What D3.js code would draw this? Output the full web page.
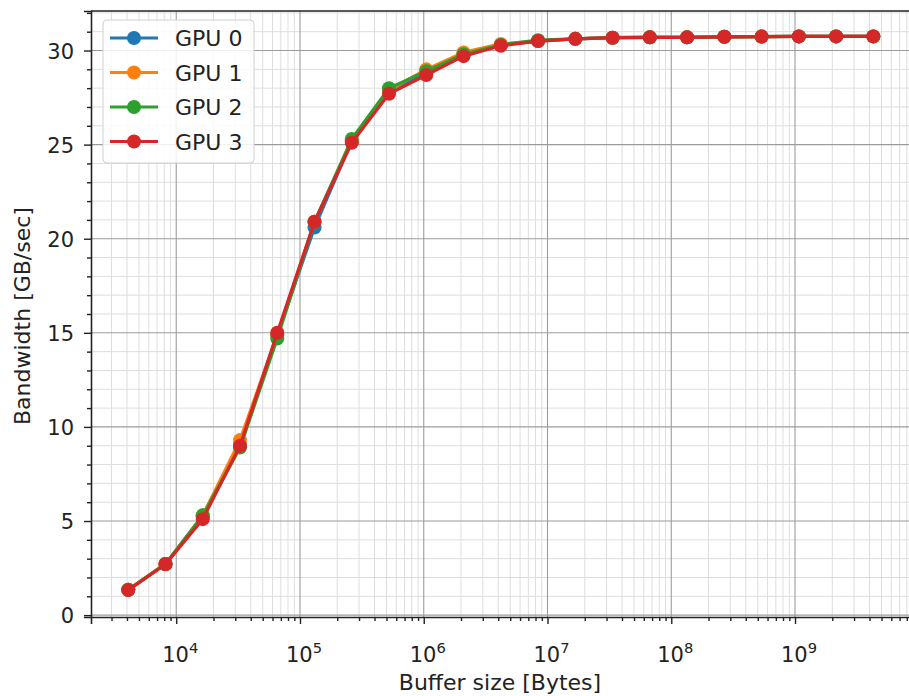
<!DOCTYPE html>
<html><head><meta charset="utf-8">
<script src="https://cdn.jsdelivr.net/npm/d3@7"></script>
<style>body{margin:0;background:#fff}svg{display:block}text{font-family:"DejaVu Sans",sans-serif;fill:#222}</style>
</head><body><svg id="c" width="909" height="696"></svg>
<script>
const sizes = [12,13,14,15,16,17,18,19,20,21,22,23,24,25,26,27,28,29,30,31,32].map(e => Math.pow(2, e));
const seriesNames = ["GPU 0","GPU 1","GPU 2","GPU 3"];
const colors = ["#1f77b4","#ff7f0e","#2ca02c","#d62728"];
const gpu0 = [1.35,2.72,5.25,9.0,14.9,20.6,25.2,27.9,28.8,29.8,30.3,30.5,30.62,30.68,30.7,30.7,30.73,30.74,30.75,30.75,30.75];
const gpu1 = [1.35,2.72,5.3,9.3,14.9,20.9,25.2,27.9,29.0,29.9,30.35,30.5,30.62,30.68,30.7,30.7,30.73,30.74,30.75,30.75,30.75];
const gpu2 = [1.35,2.72,5.3,8.9,14.7,20.9,25.3,28.0,28.9,29.8,30.3,30.55,30.62,30.68,30.7,30.7,30.73,30.74,30.75,30.75,30.75];
const gpu3 = [1.33,2.7,5.1,9.0,15.0,20.9,25.1,27.7,28.7,29.7,30.25,30.5,30.62,30.68,30.7,30.7,30.73,30.74,30.75,30.75,30.75];
const seriesValues = [gpu0,gpu1,gpu2,gpu3];
const yTicks = [0,5,10,15,20,25,30];
const xDecades = [4,5,6,7,8,9];
const xLabel = "Buffer size [Bytes]";
const yLabel = "Bandwidth [GB/sec]";

const FS = 22, TFS = 21;
const svg = d3.select("#c");
const L = 91, R = 910.6, T = 11, B = 617;
const x = d3.scaleLog().domain([Math.pow(2,11), Math.pow(2,33)]).range([L, R]);
const y = d3.scaleLinear().domain([-0.1, 32.1]).range([B, T]);

const xMinor = [];
for (let d = 3; d <= 9; d++) for (let m = 2; m <= 9; m++) { const v = m*Math.pow(10,d); if (v > x.domain()[0] && v < x.domain()[1]) xMinor.push(v); }
const xMajor = xDecades.map(d => Math.pow(10,d));
const yMinor = d3.range(0, 33, 1).filter(v => v % 5 !== 0);

const g = svg.append("g");
g.selectAll(".xmg").data(xMinor).join("line").attr("x1", d=>x(d)).attr("x2", d=>x(d)).attr("y1",T).attr("y2",B).attr("stroke","#dedede").attr("stroke-width",1);
g.selectAll(".ymg").data(yMinor).join("line").attr("y1", d=>y(d)).attr("y2", d=>y(d)).attr("x1",L).attr("x2",R).attr("stroke","#dedede").attr("stroke-width",1);
g.selectAll(".xMg").data(xMajor).join("line").attr("x1", d=>x(d)).attr("x2", d=>x(d)).attr("y1",T).attr("y2",B).attr("stroke","#9c9c9c").attr("stroke-width",1.1);
g.selectAll(".yMg").data(yTicks).join("line").attr("y1", d=>y(d)).attr("y2", d=>y(d)).attr("x1",L).attr("x2",R).attr("stroke","#9c9c9c").attr("stroke-width",1.1);

const line = d3.line().x(d=>x(d[0])).y(d=>y(d[1]));
seriesValues.forEach((vals, i) => {
  const pts = sizes.map((s, j) => [s, vals[j]]);
  svg.append("path").datum(pts).attr("d", line).attr("fill","none").attr("stroke",colors[i]).attr("stroke-width",3.2).attr("stroke-linejoin","round");
  svg.append("g").selectAll("circle").data(pts).join("circle").attr("cx",d=>x(d[0])).attr("cy",d=>y(d[1])).attr("r",7).attr("fill",colors[i]);
});

svg.append("g").attr("transform",`translate(0,${B})`).call(d3.axisBottom(x).tickValues(xMajor).tickSize(7).tickFormat(()=>""));
svg.append("g").attr("transform",`translate(0,${B})`).call(d3.axisBottom(x).tickValues(xMinor).tickSize(4).tickFormat(()=>"")).call(s=>s.select(".domain").remove());
const ya = svg.append("g").attr("transform",`translate(${L},0)`).call(d3.axisLeft(y).tickValues(yTicks).tickSize(7).tickPadding(10));
svg.append("g").attr("transform",`translate(${L},0)`).call(d3.axisLeft(y).tickValues(yMinor).tickSize(4).tickFormat(()=>"")).call(s=>s.select(".domain").remove());
svg.selectAll(".tick line").attr("stroke","#222").attr("stroke-width",1.4);
svg.selectAll(".domain").attr("stroke","#222").attr("stroke-width",1.6);
ya.selectAll("text").attr("font-size",TFS).attr("font-family","DejaVu Sans").attr("fill","#222").attr("dy","0.36em");

xDecades.forEach(d => {
  const t = svg.append("text").attr("x", x(Math.pow(10,d)) + 4).attr("y", 662).attr("text-anchor","middle").attr("font-size",TFS);
  t.append("tspan").text("10");
  t.append("tspan").attr("font-size",TFS*0.7).attr("dy",-9).text(d);
});

svg.append("line").attr("x1",L).attr("x2",R).attr("y1",T).attr("y2",T).attr("stroke","#222").attr("stroke-width",1.6);

svg.append("text").attr("x", 500).attr("y", 690).attr("text-anchor","middle").attr("font-size",FS).text(xLabel);
svg.append("text").attr("transform",`translate(30,${(T+B)/2 + 2}) rotate(-90)`).attr("text-anchor","middle").attr("font-size",FS).text(yLabel);

const lg = svg.append("g");
lg.append("rect").attr("x",103).attr("y",20).attr("width",151).attr("height",143).attr("rx",4).attr("fill","#fff").attr("fill-opacity",0.85).attr("stroke","#d0d0d0");
seriesNames.forEach((n, i) => {
  const yy = 38 + i*34.5;
  lg.append("line").attr("x1",110).attr("x2",158).attr("y1",yy).attr("y2",yy).attr("stroke",colors[i]).attr("stroke-width",3.2);
  lg.append("circle").attr("cx",134).attr("cy",yy).attr("r",7).attr("fill",colors[i]);
  lg.append("text").attr("x",175).attr("y",yy+8).attr("font-size",FS).text(n);
});
</script></body></html>
